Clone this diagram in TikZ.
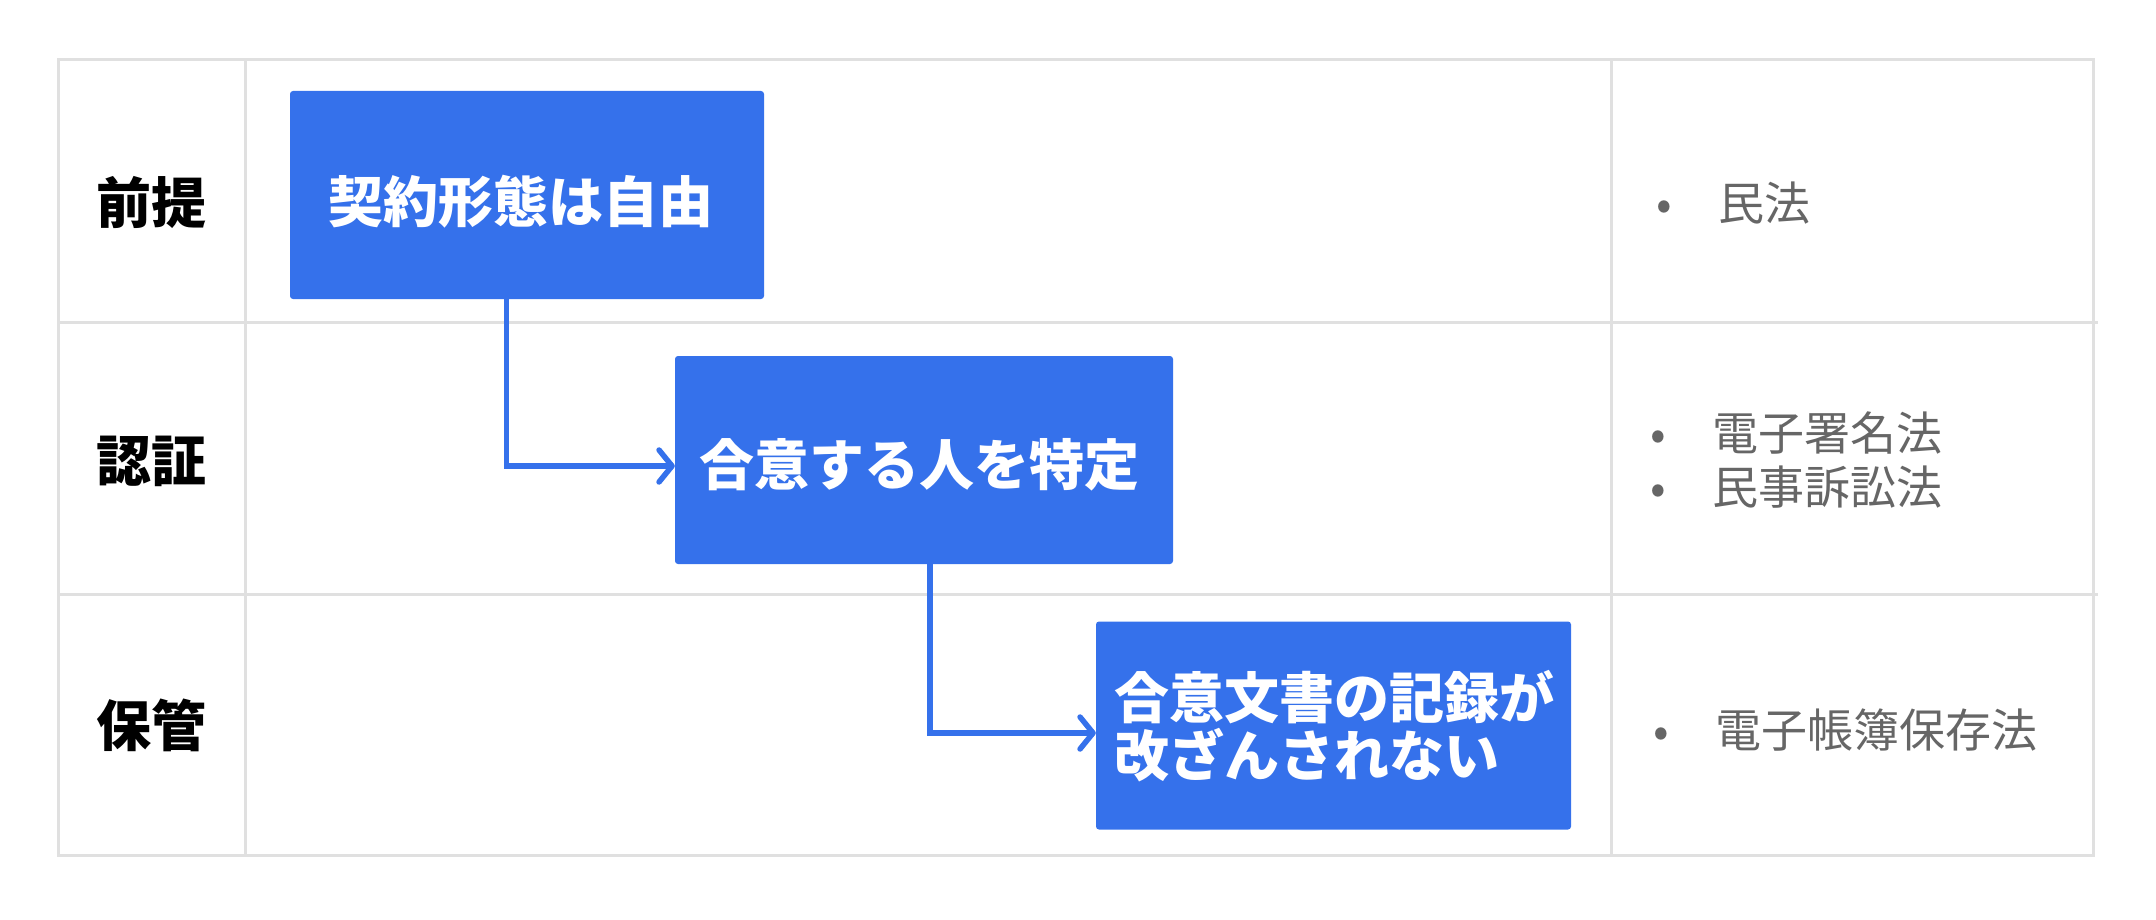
\documentclass[tikz,border=0pt]{standalone}
\usepackage{fontspec}
\setmainfont{Noto Sans CJK JP}
\usetikzlibrary{arrows.meta}
\definecolor{boxblue}{HTML}{3571EB}
\definecolor{gridgray}{HTML}{E0E0E0}
\definecolor{lawgray}{HTML}{666666}
\newcommand\lawentry[1]{\makebox[62pt][l]{•}#1}
\begin{document}
\begin{tikzpicture}[x=1pt,y=-1pt,
  gridline/.style={draw=gridgray, line width=3pt},
  stepbox/.style={fill=boxblue, rounded corners=3pt, inner sep=0pt, minimum height=208pt},
  steptext/.style={text=white, inner sep=0pt, font=\fontsize{55}{58}\selectfont\bfseries},
  rowlabel/.style={font=\fontsize{55}{58}\selectfont\bfseries, text=black, inner sep=0pt},
  lawlist/.style={font=\fontsize{46}{54}\selectfont, text=lawgray, align=left, anchor=west, inner sep=0pt},
  conn/.style={draw=boxblue, line width=5.5pt, -{Straight Barb[length=13pt,width=32pt,round]}}
]
\path[use as bounding box] (0,0) rectangle (2156,920);
% table grid
\draw[gridline] (58,60) rectangle (2093,855);
\draw[gridline] (245,60) -- (245,855);
\draw[gridline] (1611,60) -- (1611,855);
\draw[gridline] (58,322) -- (2098,322);
\draw[gridline] (58,594) -- (2098,594);
% row labels
\node[rowlabel] (l1) at (151,202) {前提};
\node[rowlabel] (l2) at (151,461) {認証};
\node[rowlabel] (l3) at (151,725) {保管};
% step boxes
\node[stepbox, minimum width=474pt] (b1) at (527,195) {};
\node[stepbox, minimum width=498pt] (b2) at (924,460) {};
\node[stepbox, minimum width=475pt] (b3) at (1333.5,725.5) {};
\node[steptext] (t1) at (521,202) {契約形態は自由};
\node[steptext] (t2) at (919,465) {合意する人を特定};
\node[steptext, align=left] (t3) at (1334,726) {合意文書の記録が\\改ざんされない};
% connectors
\draw[conn] ([xshift=-20.5pt]b1.south) |- ([yshift=-6pt]b2.west);
\draw[conn] ([xshift=6pt]b2.south) |- ([yshift=-7.5pt]b3.west);
% laws
\node[lawlist] (r1) at (1656,203) {\lawentry{民法}};
\node[lawlist] (r2) at (1650,460) {\lawentry{電子署名法}\\\lawentry{民事訴訟法}};
\node[lawlist] (r3) at (1653,730) {\lawentry{電子帳簿保存法}};
\end{tikzpicture}
\end{document}
